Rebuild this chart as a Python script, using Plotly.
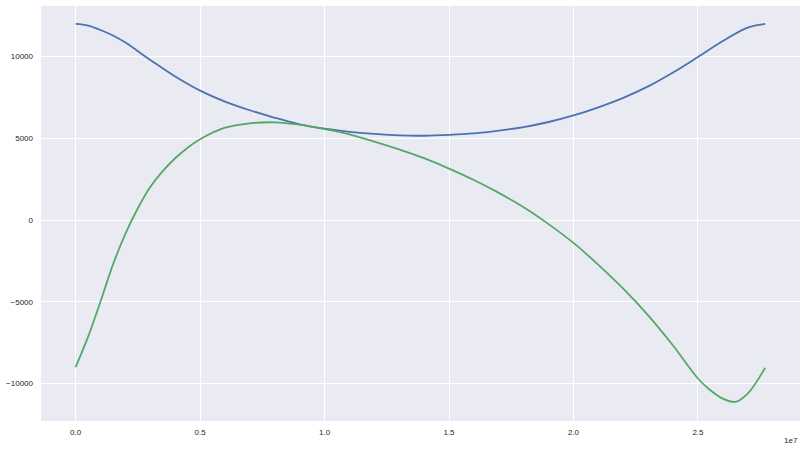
import plotly.graph_objects as go

# time values (x axis shown with a "1e7" offset label)
t_blue = [0.0, 0.05e7, 0.1e7, 0.15e7, 0.2e7, 0.3e7, 0.4e7, 0.5e7, 0.6e7, 0.7e7, 0.8e7, 0.9e7,
          1.0e7, 1.1e7, 1.2e7, 1.3e7, 1.4e7, 1.5e7, 1.6e7, 1.7e7, 1.8e7, 1.9e7,
          2.0e7, 2.1e7, 2.2e7, 2.3e7, 2.4e7, 2.5e7, 2.6e7, 2.7e7, 2.77e7]
v_blue = [12000, 11900, 11630, 11290, 10860, 9800, 8780, 7920, 7250, 6720, 6260, 5860,
          5590, 5400, 5270, 5180, 5160, 5210, 5300, 5470, 5690, 6000,
          6400, 6900, 7480, 8180, 9030, 9980, 10960, 11780, 12000]

t_green = [0.0, 0.05e7, 0.1e7, 0.15e7, 0.2e7, 0.25e7, 0.3e7, 0.35e7, 0.4e7, 0.45e7, 0.5e7,
           0.6e7, 0.7e7, 0.8e7, 0.9e7,
           1.0e7, 1.1e7, 1.2e7, 1.3e7, 1.4e7, 1.5e7, 1.6e7, 1.7e7, 1.8e7, 1.9e7,
           2.0e7, 2.1e7, 2.2e7, 2.3e7, 2.4e7, 2.5e7, 2.55e7, 2.6e7, 2.65e7, 2.7e7, 2.77e7]
v_green = [-9000, -7150, -4990, -2730, -840, 720, 2020, 2990, 3780, 4430, 4945,
           5650, 5920, 5980, 5840,
           5570, 5250, 4800, 4320, 3790, 3150, 2450, 1660, 780, -250,
           -1400, -2740, -4200, -5830, -7680, -9700, -10420, -10930, -11130, -10620, -9040]

x_tick_vals = [0.0, 0.5e7, 1.0e7, 1.5e7, 2.0e7, 2.5e7]
x_tick_text = ["0.0", "0.5", "1.0", "1.5", "2.0", "2.5"]
y_tick_vals = [-10000, -5000, 0, 5000, 10000]
y_tick_text = ["\u221210000", "\u22125000", "0", "5000", "10000"]

fig = go.Figure()
fig.add_trace(go.Scatter(x=t_blue, y=v_blue, mode="lines",
                         line=dict(color="#4C72B0", width=1.8, shape="spline", smoothing=1.0),
                         showlegend=False))
fig.add_trace(go.Scatter(x=t_green, y=v_green, mode="lines",
                         line=dict(color="#55A868", width=1.8, shape="spline", smoothing=1.0),
                         showlegend=False))

fig.update_layout(
    width=806, height=451,
    margin=dict(l=41, r=6, t=6, b=30),
    paper_bgcolor="white",
    plot_bgcolor="#EAEAF2",
    font=dict(family="Liberation Sans, Arial, sans-serif", size=8, color="#262626"),
    xaxis=dict(range=[-0.139e7, 2.91e7], tickvals=x_tick_vals, ticktext=x_tick_text,
               showgrid=True, gridcolor="white", gridwidth=1, zeroline=False,
               showline=False, ticks="", ticklabelstandoff=5, automargin=False),
    yaxis=dict(range=[-12300, 13100], tickvals=y_tick_vals, ticktext=y_tick_text,
               showgrid=True, gridcolor="white", gridwidth=1, zeroline=False,
               showline=False, ticks="", ticklabelstandoff=7, automargin=False),
    annotations=[dict(text="1e7", xref="paper", yref="paper", x=1.0, y=-0.046,
                      xanchor="right", yanchor="middle", showarrow=False,
                      font=dict(size=8, color="#262626"))],
)

fig.write_html("out.html", config={"displayModeBar": False},
               post_script="document.body.style.margin='0';document.body.style.overflow='hidden';")
